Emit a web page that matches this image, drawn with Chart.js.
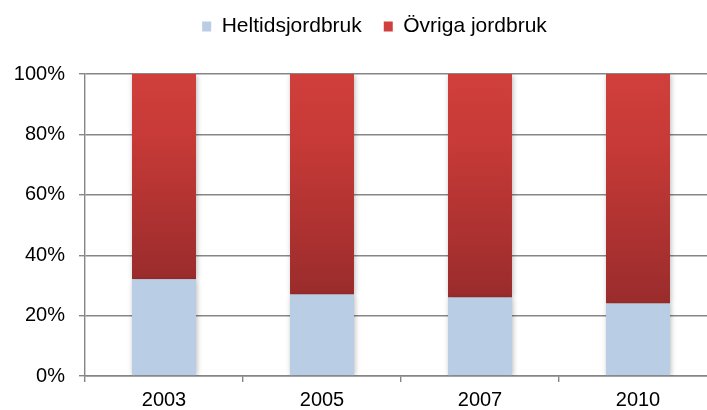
<!DOCTYPE html>
<html>
<head>
<meta charset="utf-8">
<script src="https://cdn.jsdelivr.net/npm/chart.js@4/dist/chart.umd.min.js"></script>
<style>
  html, body { margin: 0; padding: 0; background: #fff; overflow: hidden; }
  #wrap { width: 750px; height: 410px; }
</style>
</head>
<body>
<div id="wrap"><canvas id="chart" width="750" height="410"></canvas></div>
<script>
// data
const years = ['2003', '2005', '2007', '2010'];
const heltid = [32, 27, 26, 24];
const ovriga = [68, 73, 74, 76];
const seriesNames = ['Heltidsjordbruk', 'Övriga jordbruk'];

const gridColor = '#868686';
const fontFam = '"Liberation Sans", Arial, sans-serif';

// red bars: lighter at top, darker towards the bottom of the segment
function redFill(ctx) {
  const chart = ctx.chart;
  if (ctx.type !== 'data' || !chart.chartArea) return '#c13a37';
  const y = chart.scales.y;
  const top = y.getPixelForValue(100);
  const bottom = y.getPixelForValue(heltid[ctx.dataIndex]);
  const g = chart.ctx.createLinearGradient(0, top, 0, bottom);
  g.addColorStop(0, '#d03f3b');
  g.addColorStop(0.3, '#c73a37');
  g.addColorStop(1, '#9a2c2c');
  return g;
}

// soft shadow around the bars
const barShadow = {
  id: 'barShadow',
  beforeDatasetsDraw(chart) {
    const c = chart.ctx;
    c.save();
    c.shadowColor = 'rgba(0,0,0,0.28)';
    c.shadowBlur = 5;
    c.shadowOffsetX = 1;
    c.shadowOffsetY = 1;
  },
  afterDatasetsDraw(chart) {
    chart.ctx.restore();
  }
};

// more room under the legend, move it up and a bit right
const legendSpace = {
  id: 'legendSpace',
  beforeInit(chart) {
    const fit = chart.legend.fit;
    chart.legend.fit = function () {
      fit.bind(chart.legend)();
      this.height += 21;
    };
  },
  afterLayout(chart) {
    const lg = chart.legend;
    lg.left += 16;
    lg.right += 16;
    lg.top -= 6;
    lg.bottom -= 6;
  }
};

new Chart(document.getElementById('chart'), {
  type: 'bar',
  data: {
    labels: years,
    datasets: [
      { label: seriesNames[0], data: heltid, backgroundColor: '#b9cde5' },
      { label: seriesNames[1], data: ovriga, backgroundColor: redFill }
    ]
  },
  options: {
    responsive: false,
    animation: false,
    layout: { padding: { top: 0, right: 33, left: 0, bottom: 0 } },
    datasets: {
      bar: { categoryPercentage: 1, barPercentage: 0.405, borderWidth: 0 }
    },
    plugins: {
      tooltip: { enabled: false },
      legend: {
        position: 'top',
        labels: {
          boxWidth: 9,
          boxHeight: 10,
          padding: 22,
          color: '#000',
          font: { family: fontFam, size: 21 }
        }
      }
    },
    scales: {
      x: {
        stacked: true,
        grid: {
          offset: true,
          drawOnChartArea: false,
          drawTicks: true,
          tickLength: 6,
          color: gridColor,
          lineWidth: 1.4
        },
        border: { display: true, color: gridColor, width: 1.4 },
        ticks: {
          color: '#000',
          padding: 6,
          font: { family: fontFam, size: 20 }
        },
        afterFit(s) { s.height = 34; }
      },
      y: {
        stacked: true,
        min: 0,
        max: 100,
        grid: {
          color: gridColor,
          lineWidth: 1.4,
          tickLength: 6
        },
        border: { display: true, color: gridColor, width: 1.4 },
        ticks: {
          stepSize: 20,
          color: '#000',
          padding: 14,
          font: { family: fontFam, size: 20 },
          callback: v => v + '%'
        },
        afterFit(s) { s.width = 85; }
      }
    }
  },
  plugins: [barShadow, legendSpace]
});
</script>
</body>
</html>
